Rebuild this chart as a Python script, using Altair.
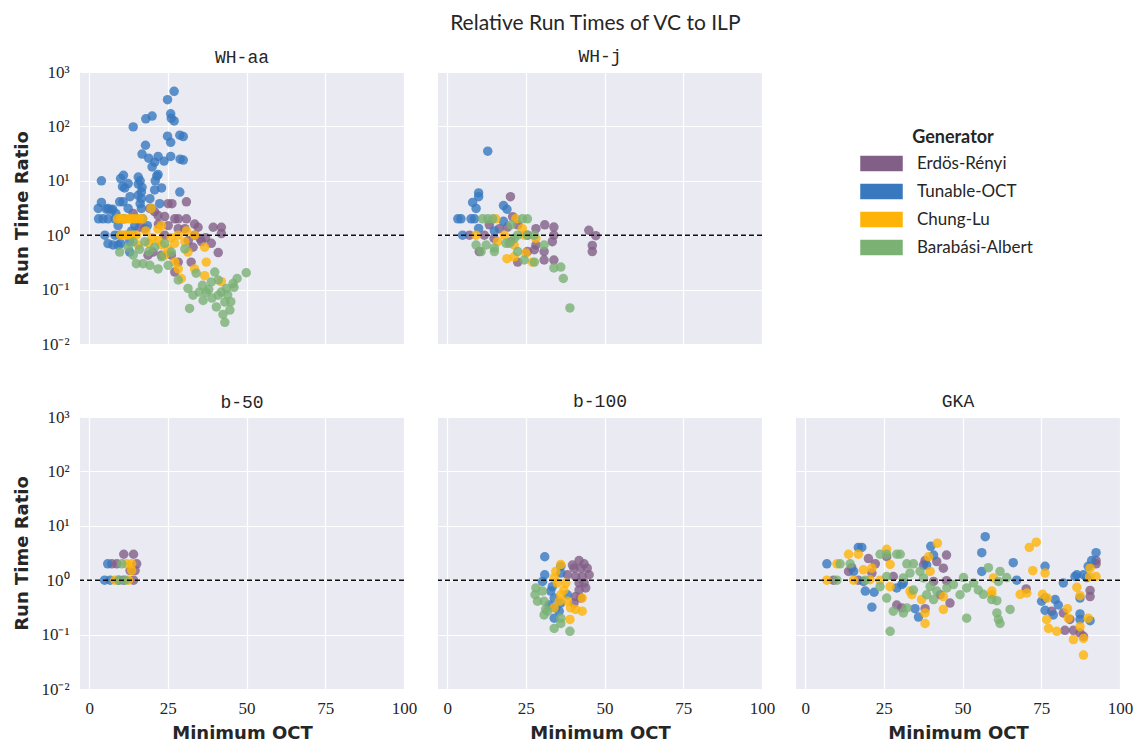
import altair as alt
import pandas as pd

GENERATORS = ["Erdös-Rényi", "Tunable-OCT", "Chung-Lu", "Barabási-Albert"]
COLORS = ["#825f87", "#3778bf", "#feb308", "#7bb274"]
PANELS = ["WH-aa", "WH-j", "b-50", "b-100", "GKA"]
X_TICKS = [0, 25, 50, 75, 100]
Y_TICKS = [0.01, 0.1, 1, 10, 100, 1000]
REF_LINE = [1.0]

# ---- WH-aa ----
WHAA_ER = [(25.1, 3.8), (26.3, 3.8), (30.9, 4.1), (21.9, 2.3), (24.0, 2.2), (27.2, 2.0), (28.3, 2.0), (30.9, 2.0),
           (19.3, 3.1), (20.8, 2.7), (33.5, 1.6), (34.6, 1.4), (39.4, 1.4), (42.0, 1.4), (42.0, 1.07), (33.5, 1.0),
           (35.2, 0.87), (35.7, 0.76), (38.8, 0.71), (41.0, 0.48), (17.7, 1.32), (25.1, 1.5), (28.3, 1.32),
           (30.4, 1.32), (23.0, 0.43), (26.1, 0.43), (28.3, 0.32), (27.2, 0.21), (32.4, 0.32), (14.0, 2.5),
           (18.7, 0.43), (20.3, 0.49), (31.5, 0.8), (33.0, 0.6), (37.0, 0.9), (22.0, 1.6), (24.0, 1.0), (16.0, 1.4)]
WHAA_TO = [(27.0, 442), (24.9, 310), (14.0, 98), (18.0, 138), (20.0, 155), (25.9, 170), (26.1, 141), (27.0, 126),
           (24.9, 66), (25.9, 51), (28.8, 69), (29.9, 65), (17.9, 45), (16.8, 31), (18.9, 26), (21.9, 28), (20.8, 22),
           (20.0, 18), (23.8, 23), (25.9, 28), (28.9, 25), (29.9, 24), (3.9, 10), (10.0, 11), (10.9, 12.6),
           (12.4, 8.9), (11.3, 7.4), (10.6, 7.8), (15.6, 11.7), (16.2, 10), (15.6, 8.7), (16.8, 7.6), (16.6, 6.2),
           (15.6, 5.4), (16.6, 4.7), (16.2, 3.8), (16.6, 3.1), (21.5, 12.3), (21.0, 10), (21.9, 13), (23.0, 7.4),
           (20.8, 6.8), (13.0, 5.1), (28.8, 6.2), (3.9, 4.0), (2.9, 3.1), (6.0, 3.1), (7.1, 2.9), (9.7, 4.1),
           (10.8, 4.1), (12.4, 3.1), (19.3, 4.7), (22.4, 3.8), (19.8, 3.1), (4.4, 2.0), (6.0, 2.0), (8.2, 2.0),
           (9.2, 1.5), (5.0, 1.0), (8.2, 1.0), (9.7, 1.0), (7.6, 0.66), (9.2, 0.66), (12.9, 0.49), (12.9, 0.76),
           (3.0, 2.0), (5.5, 3.0), (7.5, 3.0), (8.5, 2.5), (11.0, 2.0), (12.0, 1.0), (6.0, 0.7), (10.0, 0.7),
           (13.5, 1.2), (14.5, 1.5), (15.0, 2.0), (17.0, 2.0), (18.5, 1.5)]
WHAA_CL = [(9, 2), (10, 2), (11, 2), (12, 2), (13, 2), (14, 2), (15, 2), (16, 2), (17, 2), (19.7, 3.1),
           (10, 1), (11, 1), (12, 1), (13, 1), (14, 1), (15, 1), (28.3, 1), (30.9, 1.2), (33.5, 1), (21.9, 1.3),
           (23.0, 1.5), (15.6, 0.66), (19, 0.71), (23, 0.66), (25.1, 0.56), (27.2, 0.71), (30.4, 0.76), (31.4, 0.49),
           (24, 0.43), (27.2, 0.32), (28.3, 0.24), (29.3, 0.16), (36.7, 0.60), (37.2, 0.32), (36.7, 0.18), (42, 0.14),
           (33.5, 0.24), (18, 1.2), (20, 0.9), (26, 0.9), (22, 0.8)]
WHAA_BA = [(9.7, 0.49), (12.4, 0.60), (14.0, 0.43), (15.0, 0.30), (17.1, 0.30), (19.3, 0.28), (21.9, 0.24),
           (25.1, 0.28), (28.3, 0.15), (31.4, 0.105), (33.0, 0.079), (31.9, 0.045), (36.2, 0.063), (37.2, 0.089),
           (38.8, 0.138), (39.9, 0.21), (41.0, 0.079), (43.1, 0.059), (43.6, 0.105), (45.7, 0.129), (49.9, 0.204),
           (43.1, 0.025), (44.7, 0.042), (40.4, 0.048), (17.7, 0.76), (20.8, 0.60), (24.0, 0.71), (26.1, 0.49),
           (30.4, 0.56), (14, 0.75), (16, 0.55), (19, 0.5), (23, 0.4), (34, 0.2), (36, 0.12), (38, 0.1), (41, 0.15),
           (42, 0.09), (44, 0.08), (45, 0.06), (46, 0.11), (47, 0.16), (35, 0.09), (39, 0.07), (42.5, 0.035)]

# ---- WH-j ----
WHJ_ER = [(20.1, 5.1), (7.1, 1.0), (10.2, 0.5), (11.8, 1.0), (13.4, 1.55), (16.6, 1.32), (19.2, 1.41), (20.8, 2.19),
          (22.4, 1.55), (25.5, 1.0), (28.2, 1.32), (31.0, 1.55), (33.9, 1.41), (33.9, 1.0), (33.4, 0.76), (25.5, 0.50),
          (27.7, 0.54), (30.8, 0.50), (33.9, 0.35), (30.8, 0.35), (28.2, 0.66), (45.0, 1.23), (47.2, 0.98),
          (46.1, 0.65), (46.1, 0.50), (22.4, 0.32), (14.9, 0.87), (20.3, 0.76)]
WHJ_TO = [(12.9, 35), (10.0, 6.0), (10.0, 5.1), (8.1, 4.0), (9.2, 3.1), (17.9, 3.5), (19.0, 3.0), (3.4, 2.0),
          (4.4, 2.0), (7.6, 2.0), (8.7, 2.0), (17.9, 1.8), (10.0, 1.33), (4.9, 1.0), (15.0, 1.2)]
WHJ_CL = [(15.5, 2.0), (21.8, 2.0), (9.2, 1.0), (18.2, 1.0), (23.9, 1.32), (16.0, 0.76), (21.3, 0.66), (25.0, 0.47),
          (19.0, 0.37), (21.3, 0.40), (27.1, 0.32), (28.2, 0.87), (24.5, 1.0)]
WHJ_BA = [(11.3, 2.0), (12.9, 2.0), (14.5, 2.0), (20.3, 1.55), (23.9, 2.0), (25.5, 2.0), (9.2, 0.66), (10.8, 0.50),
          (12.4, 0.66), (15.0, 0.58), (15.0, 0.50), (18.7, 0.71), (19.7, 0.71), (22.4, 0.50), (24.5, 0.35),
          (27.7, 0.32), (25.5, 1.0), (30.8, 0.66), (33.9, 0.25), (36.1, 0.26), (36.9, 0.16), (39.0, 0.046),
          (22.4, 1.0), (27.7, 1.0), (21.3, 0.87)]

# ---- b-50 ----
B50_ER = [(11.0, 3.0), (14.1, 3.0), (7.2, 2.0), (8.8, 2.0), (15.1, 2.0), (13.0, 1.5), (14.6, 1.5), (10.9, 1.0), (14.1, 1.0)]
B50_TO = [(5.9, 2.0), (4.9, 1.0), (6.7, 1.0), (9.3, 1.0)]
B50_CL = [(11.9, 2.0), (13.5, 2.0), (8.2, 1.0), (12.5, 1.0), (13.5, 1.5)]
B50_BA = [(10.4, 2.0), (9.5, 1.0), (11.5, 1.0)]

# ---- b-100 ----
B100_ER = [(41.9, 2.3), (43.5, 2.0), (40.3, 1.66), (42.4, 1.66), (44.5, 1.66), (45.1, 1.26), (40.8, 1.17), (42.9, 1.17),
           (41.9, 0.89), (43.5, 0.89), (44.0, 0.72), (41.9, 0.66), (40.8, 0.50), (42.4, 0.47), (40.3, 0.38),
           (38.2, 1.26), (39.8, 1.9)]
B100_TO = [(31.0, 2.7), (31.0, 1.26), (30.3, 0.95), (33.4, 0.76), (32.9, 0.63), (34.0, 0.47), (36.1, 0.38), (32.4, 0.35),
           (34.5, 0.31), (34.0, 0.20), (35.6, 0.27), (36.1, 1.35), (36.1, 1.8), (38.2, 0.54)]
B100_CL = [(36.1, 1.95), (34.5, 1.45), (34.0, 1.1), (37.7, 0.89), (36.1, 0.54), (35.6, 0.41), (38.2, 0.41), (40.8, 0.29),
           (42.9, 0.27), (39.0, 0.19), (39.2, 0.31), (34.0, 0.31), (42.9, 0.47), (37.1, 0.66), (35.0, 0.89)]
B100_BA = [(28.2, 0.72), (27.9, 0.54), (28.7, 0.41), (30.3, 0.63), (30.8, 0.41), (31.3, 0.29), (30.8, 0.23), (31.9, 0.27),
           (36.1, 0.20), (34.0, 0.13), (39.0, 0.115), (36.1, 0.16)]

# ---- GKA ----
GKA_ER = [(9.0, 1.0), (13.8, 1.45), (20.1, 2.5), (22.3, 2.0), (25.9, 2.7), (21.2, 1.35), (28.0, 1.17), (29.1, 0.35),
          (30.7, 0.31), (37.6, 1.9), (38.1, 2.3), (41.8, 2.2), (43.9, 1.66), (44.9, 2.9), (44.9, 0.98), (46.0, 0.38),
          (38.1, 0.30), (40.8, 0.95), (42.9, 0.54), (70.2, 0.69), (78.3, 0.27), (82.0, 0.25), (84.1, 0.19), (82.5, 0.12),
          (85.2, 0.12), (87.3, 0.107), (88.4, 0.093), (90.5, 0.65), (90.5, 0.50), (92.4, 2.0), (92.4, 2.3), (16.9, 1.0),
          (14.8, 1.7)]
GKA_TO = [(6.9, 2.0), (16.9, 4.0), (18.0, 4.0), (15.4, 1.45), (19.1, 0.63), (21.9, 0.60), (21.2, 0.32), (30.7, 0.83),
          (34.9, 0.30), (36.0, 0.21), (39.9, 4.2), (38.6, 1.9), (40.8, 2.9), (57.2, 6.3), (56.1, 3.2), (56.1, 1.45),
          (66.1, 2.1), (67.2, 1.0), (76.2, 1.8), (76.2, 0.47), (75.1, 0.41), (79.4, 0.44), (80.4, 0.35), (76.2, 0.28),
          (78.8, 0.23), (82.0, 0.89), (86.3, 1.26), (87.3, 0.24), (87.3, 0.19), (87.3, 0.47), (90.5, 0.18), (91.0, 2.3),
          (92.4, 3.2), (89.9, 1.8), (88.4, 1.26), (89.4, 1.12), (85.7, 1.17), (18.5, 0.95), (29.1, 0.72), (31.2, 0.89)]
GKA_CL = [(10.1, 2.0), (13.8, 3.0), (16.9, 3.0), (25.9, 3.7), (27.0, 1.95), (18.5, 1.55), (20.6, 1.02), (21.2, 1.66),
          (27.0, 0.76), (33.3, 0.63), (33.9, 0.54), (37.0, 0.44), (38.1, 0.25), (38.1, 0.16), (42.0, 4.8), (39.7, 1.45),
          (43.9, 0.50), (43.9, 0.29), (59.8, 1.1), (59.3, 0.63), (59.3, 0.54), (68.3, 0.55), (70.4, 0.58), (71.2, 4.0),
          (73.4, 5.0), (72.3, 1.5), (76.2, 1.35), (75.4, 0.55), (76.9, 0.47), (76.7, 0.19), (77.3, 0.13), (79.9, 0.115),
          (83.3, 0.30), (83.6, 0.20), (85.2, 0.081), (87.3, 0.14), (88.4, 0.085), (88.4, 0.042), (89.9, 0.20),
          (86.3, 0.74), (87.3, 0.52), (90.3, 1.17), (92.4, 1.17), (90.5, 1.66), (6.9, 1.0), (15.4, 1.0), (23.8, 1.0),
          (39.2, 2.7)]
GKA_BA = [(11.1, 2.0), (14.3, 2.0), (23.8, 3.0), (25.9, 3.0), (29.1, 3.0), (30.2, 3.0), (32.3, 2.0), (34.4, 2.0),
          (25.9, 1.17), (31.2, 1.1), (33.3, 1.35), (36.5, 1.45), (37.6, 1.1), (25.9, 0.47), (28.0, 0.27), (31.2, 0.25),
          (32.3, 0.31), (27.0, 0.115), (34.4, 0.66), (39.7, 0.76), (41.8, 0.63), (45.0, 0.72), (47.1, 0.83), (50.3, 1.12),
          (51.3, 0.72), (53.5, 0.89), (55.0, 0.66), (56.6, 0.55), (58.2, 1.7), (61.9, 1.45), (64.0, 1.12), (59.3, 0.44),
          (60.9, 0.42), (65.1, 0.29), (60.9, 0.25), (61.4, 0.19), (61.9, 0.16), (51.3, 0.20), (61.4, 0.95), (10.1, 1.0),
          (19.1, 1.0), (23.8, 0.76), (38.6, 0.54), (40.8, 0.44), (49.2, 0.54)]

PANEL_DATA = {
    "WH-aa": [WHAA_ER, WHAA_TO, WHAA_CL, WHAA_BA],
    "WH-j": [WHJ_ER, WHJ_TO, WHJ_CL, WHJ_BA],
    "b-50": [B50_ER, B50_TO, B50_CL, B50_BA],
    "b-100": [B100_ER, B100_TO, B100_CL, B100_BA],
    "GKA": [GKA_ER, GKA_TO, GKA_CL, GKA_BA],
}

rows = []
for pname in PANELS:
    for gi, pts in enumerate(PANEL_DATA[pname]):
        for (xv, yv) in pts:
            rows.append({"panel": pname, "generator": GENERATORS[gi], "ord": gi, "x": xv, "y": yv})
df = pd.DataFrame(rows)
ref_df = pd.DataFrame({"y": REF_LINE})

TEXT = "#262626"
W, H = 324, 272

y_label_expr = ("datum.value >= 999 ? '10³' : datum.value >= 99 ? '10²' : datum.value >= 9 ? '10¹' : "
                "datum.value >= 0.9 ? '10⁰' : datum.value >= 0.09 ? '10⁻¹' : '10⁻²'")

legend = alt.Legend(
    title="Generator", orient="none", legendX=793, legendY=57,
    symbolType="M-2.5,-0.9H2.5V0.9H-2.5Z", symbolSize=289, symbolOpacity=1, symbolStrokeWidth=0,
    labelFont="Lato", labelFontSize=17, labelColor=TEXT, labelOffset=27,
    titleFont="Lato", titleFontSize=18, titleFontWeight="bold", titleColor=TEXT,
    titleAnchor="middle", titlePadding=8, rowPadding=10, padding=0,
)


def make_panel(name, show_x, show_y):
    xaxis = alt.Axis(values=X_TICKS, labels=show_x, title="Minimum OCT" if show_x else "",
                     grid=True, ticks=False, domain=False, labelFlush=False, labelPadding=11, titlePadding=8)
    yaxis = alt.Axis(values=Y_TICKS, labels=show_y, labelExpr=y_label_expr, labelPadding=11, titlePadding=9,
                     title="Run Time Ratio" if show_y else "", grid=True, ticks=False, domain=False)
    pts = alt.Chart(df[df.panel == name]).mark_circle(size=90, opacity=0.8).encode(
        x=alt.X("x:Q", scale=alt.Scale(domain=[-2.9, 100], nice=False, zero=False), axis=xaxis),
        y=alt.Y("y:Q", scale=alt.Scale(type="log", domain=[0.01, 1000], nice=False), axis=yaxis),
        color=alt.Color("generator:N", scale=alt.Scale(domain=GENERATORS, range=COLORS), legend=legend),
        order=alt.Order("ord:Q"),
    )
    rule = alt.Chart(ref_df).mark_rule(strokeDash=[5, 3], color="#111111", strokeWidth=1.5).encode(
        y=alt.Y("y:Q")
    )
    return alt.layer(pts, rule).properties(
        width=W, height=H,
        title=alt.TitleParams(name, font="Liberation Mono", fontSize=18, fontWeight="normal", color=TEXT,
                              offset=-4 if show_y else 6),
    )


# empty cell in the top-right that only holds the legend area
blank = alt.Chart(ref_df).mark_text(text=" ").encode(x=alt.value(0), y=alt.value(0)).properties(
    width=W, height=H, view=alt.ViewBackground(fill="transparent", strokeWidth=0)
)

cells = [
    make_panel("WH-aa", False, True), make_panel("WH-j", False, False), blank,
    make_panel("b-50", True, True), make_panel("b-100", True, False), make_panel("GKA", True, False),
]

chart = alt.concat(*cells, columns=3, spacing={"row": 73, "column": 34}, bounds="flush").resolve_scale(
    color="shared"
).resolve_legend(color="shared").properties(
    background="white",
    title=alt.TitleParams("Relative Run Times of VC to ILP", font="Lato", fontSize=21, fontWeight="normal",
                          color=TEXT, anchor="middle", offset=14, dx=22),
).configure_view(
    fill="#EAEAF2", strokeWidth=0
).configure_axis(
    gridColor="#FFFFFF", gridWidth=1.2, labelFont="Liberation Serif", labelFontSize=17, labelColor=TEXT,
    titleFont="DejaVu Sans", titleFontSize=18, titleFontWeight="bold", titleColor=TEXT
)

chart.save("out.html", embed_options={"renderer": "svg", "actions": False})
